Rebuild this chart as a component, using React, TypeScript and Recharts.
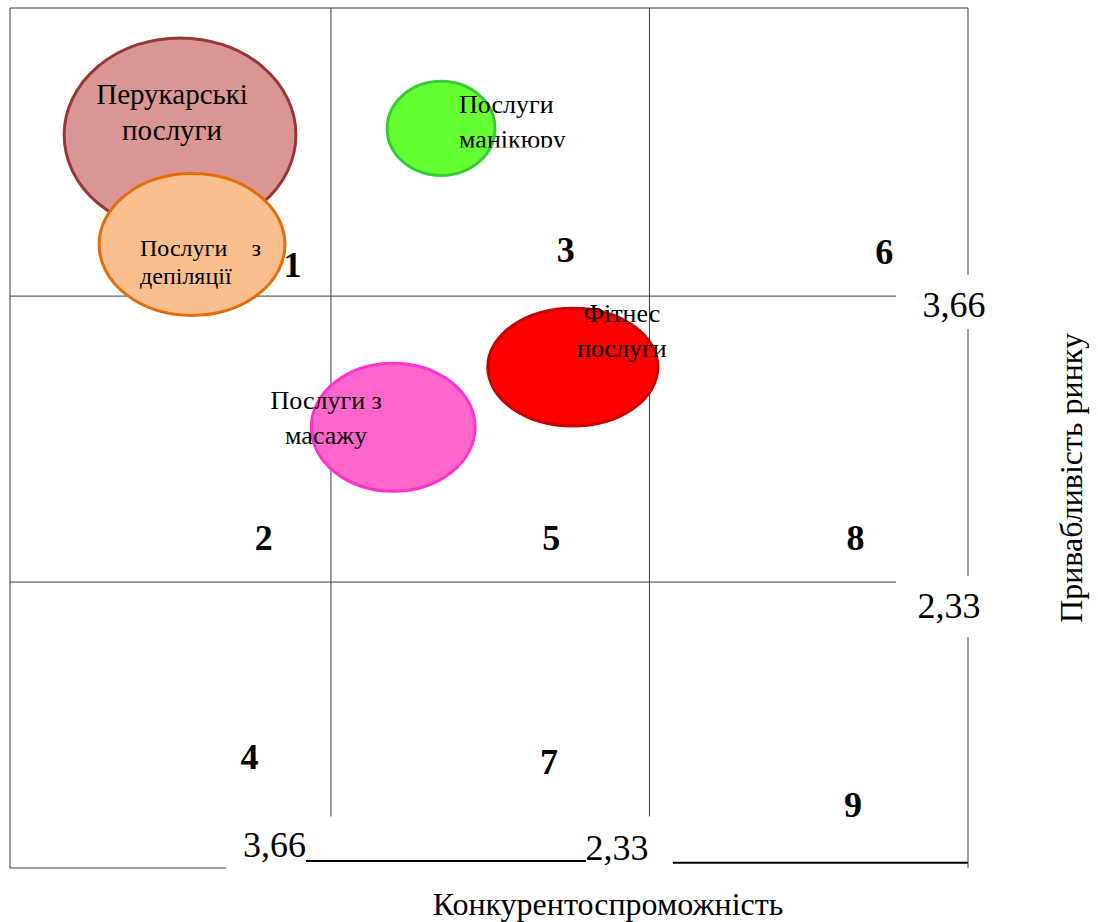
import React from 'react';
import { ScatterChart, Scatter, XAxis, YAxis, ReferenceLine } from 'recharts';

// Matrix: competitiveness (x, decreasing to the right) vs market attractiveness (y)
const services = [
  'Перукарські послуги',
  'Послуги з депіляції',
  'Послуги манікюру',
  'Фітнес послуги',
  'Послуги з масажу',
];
const competitiveness = [4.29, 4.24, 3.2, 2.65, 3.4];
const attractiveness = [4.41, 3.9, 4.44, 3.33, 3.05];
// bubble half-extent in axis units
const spreadX = [0.484, 0.388, 0.225, 0.355, 0.342];
const spreadY = [0.451, 0.33, 0.219, 0.274, 0.298];

const thresholds = [3.66, 2.33];
const thresholdLabels = ['3,66', '2,33'];

const cellNumbers = [1, 2, 3, 4, 5, 6, 7, 8, 9];
const cellX = [3.82, 3.94, 2.68, 4.0, 2.74, 1.35, 2.75, 1.47, 1.48];
const cellY = [3.81, 2.54, 3.88, 1.52, 2.54, 3.87, 1.5, 2.54, 1.3];

const W = 1098;
const H = 922;
const MARGIN = { top: 8, right: 130, bottom: 54, left: 10 };
const DOMAIN: [number, number] = [1, 5];
const PX_X = (W - MARGIN.left - MARGIN.right) / (DOMAIN[1] - DOMAIN[0]);
const PX_Y = (H - MARGIN.top - MARGIN.bottom) / (DOMAIN[1] - DOMAIN[0]);
const SERIF = '"Liberation Serif", "Times New Roman", serif';
const LINE = '#3a3a3a';

const bubbleStyles = [
  { fill: '#D99694', stroke: '#953735' },
  { fill: '#F9BF8F', stroke: '#E46C0A' },
  { fill: '#66FF33', stroke: '#33CC33' },
  { fill: '#FF0000', stroke: '#C80000' },
  { fill: '#FF66CC', stroke: '#FF33CC' },
];

type LabelLine = { text: string; dx: number; dy: number; anchor?: 'start' | 'middle' | 'end' };
const bubbleLabels: { size: number; lines: LabelLine[]; clipBottom?: number }[] = [
  {
    size: 29,
    lines: [
      { text: 'Перукарські', dx: -8, dy: -31, anchor: 'middle' },
      { text: 'послуги', dx: -8, dy: 5, anchor: 'middle' },
    ],
  },
  {
    size: 24,
    lines: [
      { text: 'Послуги', dx: -52, dy: 11 },
      { text: 'з', dx: 69, dy: 11, anchor: 'end' },
      { text: 'депіляції', dx: -52, dy: 39 },
    ],
  },
  {
    size: 26,
    clipBottom: 19,
    lines: [
      { text: 'Послуги', dx: 18, dy: -15 },
      { text: 'манікюру', dx: 18, dy: 20 },
    ],
  },
  {
    size: 26,
    lines: [
      { text: 'Фітнес', dx: 49, dy: -45, anchor: 'middle' },
      { text: 'послуги', dx: 49, dy: -10, anchor: 'middle' },
    ],
  },
  {
    size: 26,
    lines: [
      { text: 'Послуги з', dx: -67, dy: -18, anchor: 'middle' },
      { text: 'масажу', dx: -67, dy: 17, anchor: 'middle' },
    ],
  },
];

// offsets of the threshold captions from the grid line they belong to
const bottomLabelOffset = [{ dx: -25, dy: -11 }, { dx: -1, dy: -8 }];
const rightLabelOffset = [{ dx: -14, dy: 21 }, { dx: -19, dy: 36 }];

const bubbleData = services.map((name, i) => ({
  i,
  name,
  x: competitiveness[i],
  y: attractiveness[i],
  rx: spreadX[i],
  ry: spreadY[i],
}));
const cellData = cellNumbers.map((n, i) => ({ n, x: cellX[i], y: cellY[i] }));
const bottomTickData = thresholds.map((v, i) => ({ i, x: v, y: DOMAIN[0] }));
const rightTickData = thresholds.map((v, i) => ({ i, x: DOMAIN[0], y: v }));

function Bubble(props: any) {
  const { cx, cy, payload } = props;
  const st = bubbleStyles[payload.i];
  const lay = bubbleLabels[payload.i];
  const clipId = `bubble-label-${payload.i}`;
  return (
    <g>
      <ellipse
        cx={cx}
        cy={cy}
        rx={payload.rx * PX_X}
        ry={payload.ry * PX_Y}
        fill={st.fill}
        stroke={st.stroke}
        strokeWidth={3}
      />
      {lay.clipBottom !== undefined && (
        <clipPath id={clipId}>
          <rect x={cx - 200} y={cy - 200} width={400} height={200 + lay.clipBottom} />
        </clipPath>
      )}
      <g clipPath={lay.clipBottom !== undefined ? `url(#${clipId})` : undefined}>
        {lay.lines.map((ln, k) => (
          <text
            key={k}
            x={cx + ln.dx}
            y={cy + ln.dy}
            textAnchor={ln.anchor ?? 'start'}
            fontSize={lay.size}
            fontFamily={SERIF}
            fill="#000"
          >
            {ln.text}
          </text>
        ))}
      </g>
    </g>
  );
}

function CellNumber(props: any) {
  const { cx, cy, payload } = props;
  return (
    <text x={cx} y={cy + 13} textAnchor="middle" fontSize={36} fontWeight="bold" fontFamily={SERIF} fill="#000">
      {payload.n}
    </text>
  );
}

function BottomTick(props: any) {
  const { cx, cy, payload } = props;
  const o = bottomLabelOffset[payload.i];
  return (
    <text x={cx + o.dx} y={cy + o.dy} textAnchor="end" fontSize={36} fontFamily={SERIF} fill="#000">
      {thresholdLabels[payload.i]}
    </text>
  );
}

function RightTick(props: any) {
  const { cx, cy, payload } = props;
  const o = rightLabelOffset[payload.i];
  return (
    <text x={cx + o.dx} y={cy + o.dy} textAnchor="middle" fontSize={36} fontFamily={SERIF} fill="#000">
      {thresholdLabels[payload.i]}
    </text>
  );
}

export default function App() {
  return (
    <div style={{ position: 'absolute', left: 0, top: 0, background: '#fff' }}>
      <ScatterChart width={W} height={H} margin={MARGIN}>
        <XAxis type="number" dataKey="x" domain={DOMAIN} reversed hide />
        <YAxis type="number" dataKey="y" domain={DOMAIN} hide />

        {/* outer frame, broken where the threshold captions sit */}
        <ReferenceLine segment={[{ x: 5, y: 1 }, { x: 5, y: 5 }]} stroke={LINE} strokeWidth={1} />
        <ReferenceLine segment={[{ x: 5, y: 5 }, { x: 1, y: 5 }]} stroke={LINE} strokeWidth={1} />
        <ReferenceLine segment={[{ x: 1, y: 5 }, { x: 1, y: 3.758 }]} stroke={LINE} strokeWidth={1} />
        <ReferenceLine segment={[{ x: 1, y: 3.507 }, { x: 1, y: 2.358 }]} stroke={LINE} strokeWidth={1} />
        <ReferenceLine segment={[{ x: 1, y: 2.074 }, { x: 1, y: 1 }]} stroke={LINE} strokeWidth={1} />
        <ReferenceLine segment={[{ x: 5, y: 1 }, { x: 4.098, y: 1 }]} stroke={LINE} strokeWidth={1} />
        <ReferenceLine segment={[{ x: 3.764, y: 1.033 }, { x: 2.595, y: 1.033 }]} stroke="#000" strokeWidth={2} />
        <ReferenceLine segment={[{ x: 2.232, y: 1.024 }, { x: 1, y: 1.024 }]} stroke="#000" strokeWidth={2} />

        {/* threshold grid */}
        {thresholds.map((v) => (
          <ReferenceLine key={`v${v}`} segment={[{ x: v, y: 5 }, { x: v, y: 1.24 }]} stroke={LINE} strokeWidth={1} />
        ))}
        {thresholds.map((v) => (
          <ReferenceLine key={`h${v}`} segment={[{ x: 5, y: v }, { x: 1.3, y: v }]} stroke={LINE} strokeWidth={1} />
        ))}

        <Scatter data={cellData} shape={CellNumber} isAnimationActive={false} />
        <Scatter data={bottomTickData} shape={BottomTick} isAnimationActive={false} />
        <Scatter data={rightTickData} shape={RightTick} isAnimationActive={false} />
        <Scatter data={bubbleData} shape={Bubble} isAnimationActive={false} />

        <text x={608} y={915} textAnchor="middle" fontSize={32} fontFamily={SERIF} fill="#000">
          Конкурентоспроможність
        </text>
        <text
          x={1082}
          y={478}
          textAnchor="middle"
          fontSize={32}
          fontFamily={SERIF}
          fill="#000"
          transform="rotate(-90 1082 478)"
        >
          Привабливість ринку
        </text>
      </ScatterChart>
    </div>
  );
}
